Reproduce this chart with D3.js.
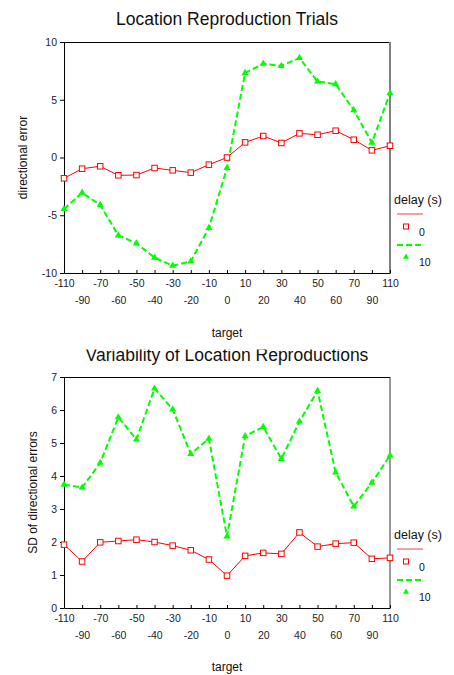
<!DOCTYPE html>
<html>
<head>
<meta charset="utf-8">
<script src="https://cdn.jsdelivr.net/npm/d3@7"></script>
<style>
  body { margin: 0; background: #fff; }
  svg { display: block; font-family: "Liberation Sans", Arial, sans-serif; }
</style>
</head>
<body>
<div id="chart"></div>
<script>
// target angles (categorical axis, evenly spaced)
var targets = [-110, -90, -70, -60, -50, -40, -30, -20, -10, 0, 10, 20, 30, 40, 50, 60, 70, 90, 110];

// mean directional error
var errDelay0 = [-1.8, -0.97, -0.76, -1.54, -1.52, -0.91, -1.11, -1.31, -0.62, 0.0, 1.31, 1.86, 1.26, 2.09, 1.97, 2.32, 1.54, 0.62, 1.02];
var errDelay10 = [-4.46, -3.05, -4.11, -6.74, -7.43, -8.67, -9.37, -8.99, -6.1, -0.91, 7.32, 8.12, 7.93, 8.62, 6.58, 6.35, 4.1, 1.28, 5.57];

// SD of directional errors
var sdDelay0 = [1.92, 1.41, 1.99, 2.03, 2.07, 2.0, 1.89, 1.75, 1.47, 0.98, 1.58, 1.67, 1.64, 2.29, 1.86, 1.95, 1.98, 1.49, 1.52];
var sdDelay10 = [3.74, 3.65, 4.40, 5.78, 5.11, 6.65, 6.02, 4.67, 5.13, 2.17, 5.21, 5.49, 4.52, 5.65, 6.58, 4.11, 3.08, 3.80, 4.62];

var errTicks = [-10, -5, 0, 5, 10];
var sdTicks = [0, 1, 2, 3, 4, 5, 6, 7];

var width = 454, height = 675;
var fmt = function (d) { return String(d); }; // plain hyphen minus, no decimals

var svg = d3.select("#chart").append("svg")
    .attr("width", width)
    .attr("height", height);

svg.append("defs").append("clipPath").attr("id", "titleClip")
  .append("rect").attr("x", 0).attr("y", 349.5).attr("width", width).attr("height", 40);

function drawPanel(opt) {
    var x = d3.scalePoint().domain(targets).range([64, 390]);
    var y = d3.scaleLinear().domain(opt.domain).range([opt.bottom, opt.top]);
    var g = svg.append("g");

    var title = g.append("text")
        .attr("x", 227)
        .attr("y", opt.titleY)
        .attr("text-anchor", "middle")
        .style("font-size", "17.5px")
        .style("fill", "#111")
        .text(opt.title);
    if (opt.clipTitle) title.attr("clip-path", "url(#titleClip)");

    // frame: top + right
    g.append("line")
        .attr("x1", 64).attr("x2", 390).attr("y1", opt.top + 0.5).attr("y2", opt.top + 0.5)
        .style("stroke", "#000");
    g.append("line")
        .attr("x1", 390).attr("x2", 390).attr("y1", opt.top).attr("y2", opt.bottom)
        .style("stroke", opt.rightColor)
        .style("stroke-width", opt.rightWidth);

    // y axis
    var yAxis = g.append("g")
        .attr("transform", "translate(64,0)")
        .call(d3.axisLeft(y).tickValues(opt.ticks).tickFormat(fmt).tickSize(4).tickSizeOuter(0).tickPadding(3));
    yAxis.selectAll("text").style("font-size", "10.5px").style("fill", "#222");
    yAxis.selectAll("line, path").style("stroke", "#000");

    // x axis, inner ticks, labels on two alternating rows
    var xAxis = g.append("g")
        .attr("transform", "translate(0," + opt.bottom + ")")
        .call(d3.axisBottom(x).tickFormat(fmt).tickSizeInner(-3).tickSizeOuter(0).tickPadding(0));
    xAxis.selectAll("line, path").style("stroke", "#000");
    xAxis.selectAll("text")
        .style("font-size", "10.5px")
        .style("fill", "#222")
        .attr("y", function (d, i) { return i % 2 === 0 ? 13.5 : 31; })
        .attr("dy", null);

    g.append("text")
        .attr("transform", "translate(" + opt.yLabelX + "," + ((opt.top + opt.bottom) / 2) + ") rotate(-90)")
        .attr("text-anchor", "middle")
        .style("font-size", "12px")
        .style("fill", "#111")
        .text(opt.yLabel);

    g.append("text")
        .attr("x", 227)
        .attr("y", opt.xLabelY)
        .attr("text-anchor", "middle")
        .style("font-size", "12px")
        .style("fill", "#111")
        .text("target");

    var line = d3.line()
        .x(function (d, i) { return x(targets[i]); })
        .y(function (d) { return y(d); });

    g.append("path")
        .datum(opt.s10)
        .attr("d", line)
        .style("fill", "none")
        .style("stroke", "#00ff00")
        .style("stroke-width", 2)
        .style("stroke-dasharray", "6,3");

    g.append("path")
        .datum(opt.s0)
        .attr("d", line)
        .style("fill", "none")
        .style("stroke", "#ff0000")
        .style("stroke-width", 1);

    var tri = d3.symbol().type(d3.symbolTriangle).size(22);
    g.selectAll(".tri")
        .data(opt.s10)
        .enter().append("path")
        .attr("transform", function (d, i) { return "translate(" + x(targets[i]) + "," + y(d) + ")"; })
        .attr("d", tri)
        .style("fill", "#00ff00");

    g.selectAll(".sq")
        .data(opt.s0)
        .enter().append("rect")
        .attr("x", function (d, i) { return x(targets[i]) - 2.75; })
        .attr("y", function (d) { return y(d) - 2.75; })
        .attr("width", 5.5)
        .attr("height", 5.5)
        .style("fill", "#fff")
        .style("stroke", "#ff0000")
        .style("stroke-width", 1);

    // legend
    var L = opt.legendY;
    g.append("text").attr("x", 394).attr("y", L + 4)
        .style("font-size", "12.5px").style("fill", "#111").text("delay (s)");
    g.append("line").attr("x1", 397).attr("x2", 423).attr("y1", L + 14).attr("y2", L + 14)
        .style("stroke", "#f06060").style("stroke-width", 1.2);
    g.append("rect").attr("x", 403.5).attr("y", L + 24).attr("width", 5).attr("height", 5)
        .style("fill", "#fff").style("stroke", "#ff0000");
    g.append("text").attr("x", 419).attr("y", L + 36)
        .style("font-size", "10.5px").style("fill", "#111").text("0");
    g.append("line").attr("x1", 397).attr("x2", 423).attr("y1", L + 45).attr("y2", L + 45)
        .style("stroke", "#00ff00").style("stroke-width", 2).style("stroke-dasharray", "6,3");
    g.append("path").attr("transform", "translate(406," + (L + 57) + ")")
        .attr("d", d3.symbol().type(d3.symbolTriangle).size(16)).style("fill", "#00ff00");
    g.append("text").attr("x", 419).attr("y", L + 66)
        .style("font-size", "10.5px").style("fill", "#111").text("10");
}

drawPanel({
    title: "Location Reproduction Trials", titleY: 25,
    top: 42, bottom: 273, domain: [-10, 10], ticks: errTicks,
    yLabel: "directional error", yLabelX: 27, xLabelY: 337,
    s0: errDelay0, s10: errDelay10,
    rightColor: "#808080", rightWidth: 2, legendY: 200
});

drawPanel({
    title: "Variability of Location Reproductions", titleY: 361, clipTitle: true,
    top: 377, bottom: 608, domain: [0, 7], ticks: sdTicks,
    yLabel: "SD of directional errors", yLabelX: 37, xLabelY: 671,
    s0: sdDelay0, s10: sdDelay10,
    rightColor: "#333", rightWidth: 1, legendY: 535
});
</script>
</body>
</html>
